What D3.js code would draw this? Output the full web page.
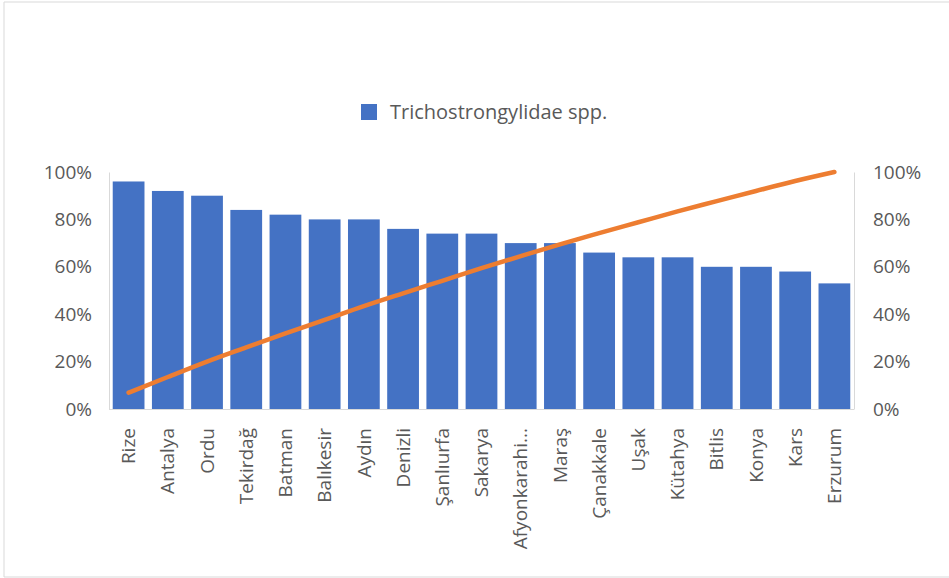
<!DOCTYPE html>
<html><head><meta charset="utf-8">
<script src="https://cdn.jsdelivr.net/npm/d3@7"></script>
<style>
html,body{margin:0;padding:0;background:#fff;}
svg{display:block;}
text{font-family:"Open Sans","Noto Sans",sans-serif;fill:#595959;}
</style></head>
<body>
<script>
const categories = ["Rize","Antalya","Ordu","Tekirdağ","Batman","Balıkesir","Aydın","Denizli","Şanlıurfa","Sakarya","Afyonkarahi...","Maraş","Çanakkale","Uşak","Kütahya","Bitlis","Konya","Kars","Erzurum"];
const barValues = [96,92,90,84,82,80,80,76,74,74,70,70,66,64,64,60,60,58,53];
const lineValues = [6.9,13.5,20,26,31.9,37.6,43.4,48.8,54.1,59.4,64.5,69.5,74.2,78.8,83.4,87.7,92,96.2,100];
const tickValues = [0,20,40,60,80,100];
const seriesName = "Trichostrongylidae spp.";

const W = 949, H = 578;
const pLeft = 109, pRight = 854, pTop = 172, pBottom = 409;
const fs = "19px";

const svg = d3.select("body").append("svg").attr("width", W).attr("height", H);

// chart frame
svg.append("line").attr("x1",4).attr("x2",W).attr("y1",2).attr("y2",2).attr("stroke","#d9d9d9");
svg.append("line").attr("x1",4).attr("x2",4).attr("y1",2).attr("y2",577).attr("stroke","#d9d9d9");
svg.append("line").attr("x1",4).attr("x2",W).attr("y1",577).attr("y2",577).attr("stroke","#d9d9d9");

const x = d3.scaleBand().domain(categories).range([pLeft, pRight]).paddingInner(0.19).paddingOuter(0.095);
const y = d3.scaleLinear().domain([0,100]).range([pBottom, pTop]);
const y2 = d3.scaleLinear().domain([0,100]).range([pBottom, pTop]);

// bars
svg.append("g").selectAll("rect").data(categories).join("rect")
  .attr("x", d => x(d))
  .attr("y", (d,i) => y(barValues[i]))
  .attr("width", x.bandwidth())
  .attr("height", (d,i) => y(0) - y(barValues[i]))
  .attr("fill", "#4472C4");

// axes
const fmt = d => d + "%";
const gl = svg.append("g").attr("transform", `translate(${pLeft},0)`)
  .call(d3.axisLeft(y).tickValues(tickValues).tickFormat(fmt).tickSize(0).tickPadding(17));
gl.select(".domain").attr("stroke","#d9d9d9");
gl.selectAll("text").style("font-size",fs).attr("fill","#595959");

const gr = svg.append("g").attr("transform", `translate(${pRight},0)`)
  .call(d3.axisRight(y2).tickValues(tickValues).tickFormat(fmt).tickSize(0).tickPadding(19));
gr.select(".domain").attr("stroke","#d9d9d9");
gr.selectAll("text").style("font-size",fs).attr("fill","#595959");

const gb = svg.append("g").attr("transform", `translate(0,${pBottom})`)
  .call(d3.axisBottom(x).tickSize(0).tickPadding(0));
gb.select(".domain").attr("stroke","#d9d9d9").attr("d", `M${pLeft},0.5H${pRight}`);
gb.selectAll("text")
  .style("font-size",fs).attr("fill","#595959")
  .attr("text-anchor","end")
  .attr("dy","0.35em")
  .attr("transform","translate(0,19) rotate(-90)")
  .attr("x",0).attr("y",0);

// line
const line = d3.line()
  .x((d,i) => x(categories[i]) + x.bandwidth()/2)
  .y(d => y2(d))
  .curve(d3.curveMonotoneX);
svg.append("path").datum(lineValues)
  .attr("d", line)
  .attr("fill","none")
  .attr("stroke","#ED7D31")
  .attr("stroke-width",4.5)
  .attr("stroke-linecap","round")
  .attr("stroke-linejoin","round");

// legend
const lg = svg.append("g");
lg.append("rect").attr("x",361).attr("y",104).attr("width",16).attr("height",16).attr("fill","#4472C4");
lg.append("text").attr("x",390).attr("y",119).style("font-size","20px").attr("fill","#595959").text(seriesName);
</script>
</body></html>
